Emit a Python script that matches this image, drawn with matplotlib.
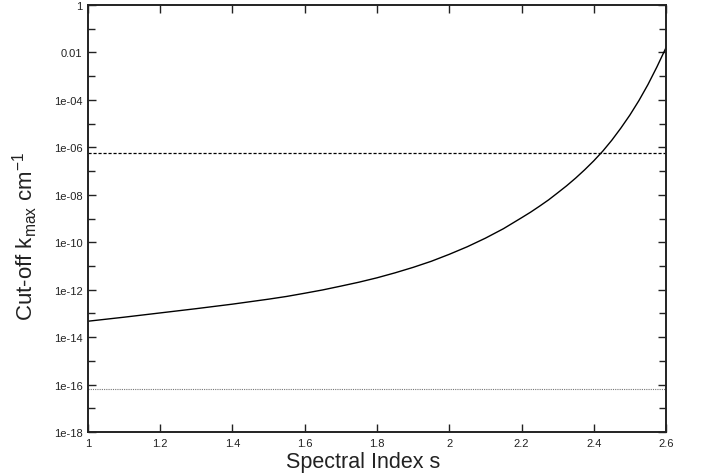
import matplotlib
matplotlib.use("Agg")
import matplotlib.pyplot as plt
from matplotlib.ticker import FixedLocator, NullFormatter
import numpy as np

# Data (log10 of the cut-off k_max, read on the log axis)
s_values = [1.0, 1.1, 1.2, 1.3, 1.4, 1.5, 1.55, 1.6, 1.65, 1.7, 1.75, 1.8,
            1.85, 1.9, 1.95, 2.0, 2.05, 2.1, 2.15, 2.2, 2.225, 2.25, 2.275,
            2.3, 2.325, 2.35, 2.375, 2.4, 2.425, 2.45, 2.475, 2.5, 2.525,
            2.55, 2.575, 2.6]
log10_kmax = [-13.33, -13.16, -12.98, -12.80, -12.61, -12.40, -12.285, -12.15,
              -12.01, -11.85, -11.685, -11.50, -11.29, -11.06, -10.805, -10.51,
              -10.19, -9.83, -9.43, -8.97, -8.735, -8.48, -8.215, -7.92, -7.62,
              -7.295, -6.945, -6.57, -6.16, -5.70, -5.19, -4.64, -4.03, -3.355,
              -2.605, -1.80]
dashed_level = 6.0e-7
dotted_level = 6.3e-17

x_ticks = [1.0, 1.2, 1.4, 1.6, 1.8, 2.0, 2.2, 2.4, 2.6]
x_tick_labels = ["1", "1.2", "1.4", "1.6", "1.8", "2", "2.2", "2.4", "2.6"]
y_ticks = [1, 1e-2, 1e-4, 1e-6, 1e-8, 1e-10, 1e-12, 1e-14, 1e-16, 1e-18]
y_tick_labels = ["1", "0.01", "1e-04", "1e-06", "1e-08", "1e-10", "1e-12",
                 "1e-14", "1e-16", "1e-18"]
y_minor = [1e-1, 1e-3, 1e-5, 1e-7, 1e-9, 1e-11, 1e-13, 1e-15, 1e-17]

plt.rcParams['font.family'] = ['Liberation Sans', 'DejaVu Sans']
plt.rcParams['mathtext.fontset'] = 'custom'
plt.rcParams['mathtext.rm'] = 'Liberation Sans'
plt.rcParams['mathtext.it'] = 'Liberation Sans'

fig = plt.figure(figsize=(7.02, 4.77), dpi=100)
ax = fig.add_axes([88/702, 1-433/477, (666-88)/702, (433-6)/477])

kmax_values = np.power(10.0, log10_kmax)
ax.plot(s_values, kmax_values, color='black', lw=1.0)
ax.axhline(dashed_level, color='black', lw=0.9, linestyle=(0, (2.5, 1.5)))
ax.axhline(dotted_level, color='#777777', lw=0.8, linestyle=(0, (1, 1)))

ax.set_yscale('log')
ax.set_xlim(1.0, 2.6)
ax.set_ylim(1e-18, 1)

ax.xaxis.set_major_locator(FixedLocator(x_ticks))
ax.set_xticklabels(x_tick_labels)
ax.yaxis.set_major_locator(FixedLocator(y_ticks))
ax.set_yticklabels(y_tick_labels)
ax.yaxis.set_minor_locator(FixedLocator(y_minor))
ax.yaxis.set_minor_formatter(NullFormatter())
ax.xaxis.set_minor_locator(FixedLocator([]))

ax.tick_params(which='both', direction='in', top=True, right=True,
               labelsize=8, colors='#222222', width=1.0)
ax.tick_params(which='major', length=6, pad=4)
ax.tick_params(which='minor', length=5)
for sp in ax.spines.values():
    sp.set_linewidth(1.4)
    sp.set_color('#222222')

ax.set_xlabel('Spectral Index s', fontsize=15.5, color='#222222')
ax.xaxis.set_label_coords(0.476, -0.044)
ax.set_ylabel(r'Cut-off k$_{\mathrm{max}}$ cm$^{\mathrm{-1}}$', fontsize=16,
              color='#222222')
ax.yaxis.set_label_coords(-0.083, 0.46)

fig.savefig('out.png', dpi=100)
